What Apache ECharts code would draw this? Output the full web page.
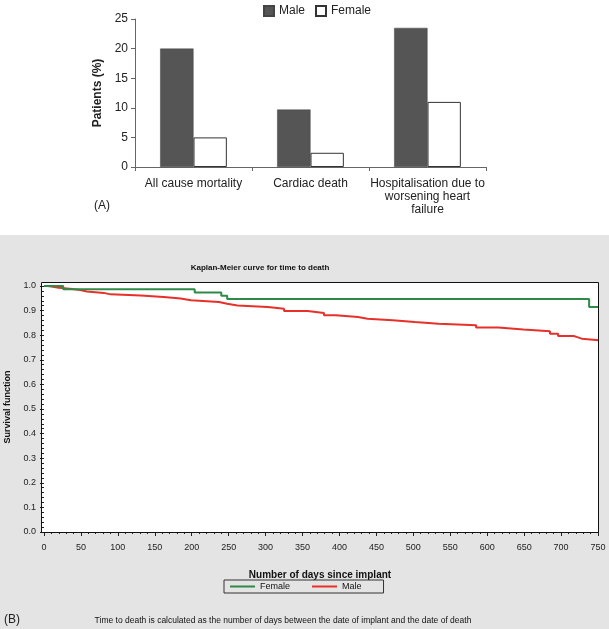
<!DOCTYPE html>
<html><head><meta charset="utf-8">
<script src="https://cdn.jsdelivr.net/npm/echarts@6/dist/echarts.min.js"></script>
<style>html,body{margin:0;padding:0;background:#fff}#c{width:609px;height:629px}</style>
</head><body><div id="c"></div>
<script>
// Panel A data
const barCategories = ['All cause mortality', 'Cardiac death', 'Hospitalisation due to\nworsening heart\nfailure'];
const maleValues = [20.0, 9.7, 23.5];
const femaleValues = [5.0, 2.4, 11.0];
const barYTicks = [0, 5, 10, 15, 20, 25];

// Panel B data: Kaplan-Meier steps [day, survival]
const kmFemale = [[0,1.0],[26,0.987],[204,0.974],[240,0.960],[248,0.947],[738,0.915],[751,0.915]];
const kmMale = [[0,1.0],[5,0.997],[12,0.993],[20,0.989],[35,0.984],[49,0.978],[58,0.972],[81,0.966],[90,0.961],[131,0.955],[162,0.949],[185,0.942],[199,0.935],[237,0.928],[248,0.921],[262,0.915],[303,0.908],[325,0.898],[357,0.890],[379,0.881],[395,0.874],[425,0.867],[438,0.861],[472,0.854],[502,0.847],[534,0.840],[585,0.831],[615,0.823],[649,0.816],[685,0.806],[696,0.797],[717,0.793],[721,0.786],[728,0.779],[751,0.779]];
const kmXTicks = [0,50,100,150,200,250,300,350,400,450,500,550,600,650,700,750];
const kmYTicks = [0.0,0.1,0.2,0.3,0.4,0.5,0.6,0.7,0.8,0.9,1.0];

const FONT = 'Liberation Sans, Arial, sans-serif';
const chart = echarts.init(document.getElementById('c'), null, {renderer: 'canvas'});

const option = {
  animation: false,
  backgroundColor: '#ffffff',
  graphic: [
    {type: 'rect', z: -10, shape: {x: 0, y: 235, width: 609, height: 394}, style: {fill: '#e3e4e3'}},
    {type: 'rect', z: -5, shape: {x: 41, y: 282, width: 558, height: 251}, style: {fill: '#ffffff'}},
    {type: 'rect', z: 50, shape: {x: 41.5, y: 282.5, width: 557, height: 250}, style: {fill: null, stroke: '#111', lineWidth: 1}},
    {type: 'text', left: 94, top: 200, style: {text: '(A)', font: '12px ' + FONT, fill: '#222'}},
    {type: 'text', left: 4, top: 614, style: {text: '(B)', font: '12px ' + FONT, fill: '#222'}},
    {type: 'text', x: 260, y: 268, style: {text: 'Kaplan-Meier curve for time to death', font: 'bold 8px ' + FONT, fill: '#111', align: 'center', verticalAlign: 'middle'}},
    {type: 'text', x: 320, y: 575, style: {text: 'Number of days since implant', font: 'bold 10px ' + FONT, fill: '#111', align: 'center', verticalAlign: 'middle'}},
    {type: 'text', x: 8, y: 407, rotation: Math.PI / 2, style: {text: 'Survival function', font: 'bold 9px ' + FONT, fill: '#111', align: 'center', verticalAlign: 'middle'}},
    {type: 'text', x: 283, y: 621, style: {text: 'Time to death is calculated as the number of days between the date of implant and the date of death', font: '8.5px ' + FONT, fill: '#111', align: 'center', verticalAlign: 'middle'}}
  ],
  legend: [
    {
      data: ['Male', 'Female'],
      top: 0, left: 258,
      icon: 'rect',
      itemWidth: 10, itemHeight: 10, itemGap: 10,
      textStyle: {fontFamily: FONT, fontSize: 12, color: '#222'},
      selectedMode: false
    },
    {
      data: ['KM Female', 'KM Male'],
      left: 224, top: 580,
      orient: 'horizontal',
      icon: 'rect', itemWidth: 25, itemHeight: 2, itemGap: 22,
      padding: [2, 22, 2, 6],
      borderColor: '#333', borderWidth: 1,
      backgroundColor: '#e3e4e3',
      formatter: n => n.replace('KM ', ''),
      textStyle: {fontFamily: FONT, fontSize: 9, color: '#111'},
      selectedMode: false
    }
  ],
  grid: [
    {left: 135, top: 19, width: 351, height: 148, containLabel: false},
    {left: 44, right: 11, top: 286, bottom: 97, containLabel: false}
  ],
  xAxis: [
    {
      gridIndex: 0, type: 'category', data: barCategories,
      axisLine: {lineStyle: {color: '#666'}},
      axisTick: {show: true, alignWithLabel: false, length: 4, lineStyle: {color: '#666'}},
      axisLabel: {fontFamily: FONT, fontSize: 12, color: '#222', margin: 10, lineHeight: 13, interval: 0}
    },
    {
      gridIndex: 1, type: 'value', min: 0, max: 750, interval: 50, offset: 1,
      axisLine: {show: false},
      axisTick: {show: true, length: 4, lineStyle: {color: '#222'}},
      minorTick: {show: true, splitNumber: 5, length: 2, lineStyle: {color: '#222'}},
      splitLine: {show: false},
      axisLabel: {fontFamily: FONT, fontSize: 9, color: '#222', margin: 10}
    }
  ],
  yAxis: [
    {
      gridIndex: 0, type: 'value', min: barYTicks[0], max: barYTicks[barYTicks.length - 1], interval: 5,
      name: 'Patients (%)', nameLocation: 'middle', nameGap: 29,
      nameTextStyle: {fontFamily: FONT, fontSize: 12, fontWeight: 'bold', color: '#222'},
      axisLine: {show: true, lineStyle: {color: '#666'}},
      axisTick: {show: true, length: 4, lineStyle: {color: '#666'}},
      splitLine: {show: false},
      axisLabel: {fontFamily: FONT, fontSize: 12, color: '#222', margin: 7}
    },
    {
      gridIndex: 1, type: 'value', min: 0, max: 1.0, interval: 0.1, offset: 3,
      axisLine: {show: false},
      axisTick: {show: true, length: 4, lineStyle: {color: '#222'}},
      minorTick: {show: true, splitNumber: 5, length: 2, lineStyle: {color: '#222'}},
      splitLine: {show: false},
      axisLabel: {fontFamily: FONT, fontSize: 9, color: '#222', margin: 5, formatter: v => v.toFixed(1)}
    }
  ],
  series: [
    {
      name: 'Male', type: 'bar', xAxisIndex: 0, yAxisIndex: 0, data: maleValues,
      barGap: '0%', barCategoryGap: '43%',
      itemStyle: {color: '#555555', borderColor: '#444', borderWidth: 0.5}
    },
    {
      name: 'Female', type: 'bar', xAxisIndex: 0, yAxisIndex: 0, data: femaleValues,
      itemStyle: {color: '#ffffff', borderColor: '#333', borderWidth: 1}
    },
    {
      name: 'KM Female', type: 'line', xAxisIndex: 1, yAxisIndex: 1, data: kmFemale,
      step: 'end', showSymbol: false, symbol: 'none', z: 3,
      lineStyle: {color: '#2f8a48', width: 2}, itemStyle: {color: '#2f8a48'}
    },
    {
      name: 'KM Male', type: 'line', xAxisIndex: 1, yAxisIndex: 1, data: kmMale,
      step: 'end', showSymbol: false, symbol: 'none', z: 2,
      lineStyle: {color: '#e8302a', width: 2}, itemStyle: {color: '#e8302a'}
    }
  ]
};
chart.setOption(option);
</script></body></html>
